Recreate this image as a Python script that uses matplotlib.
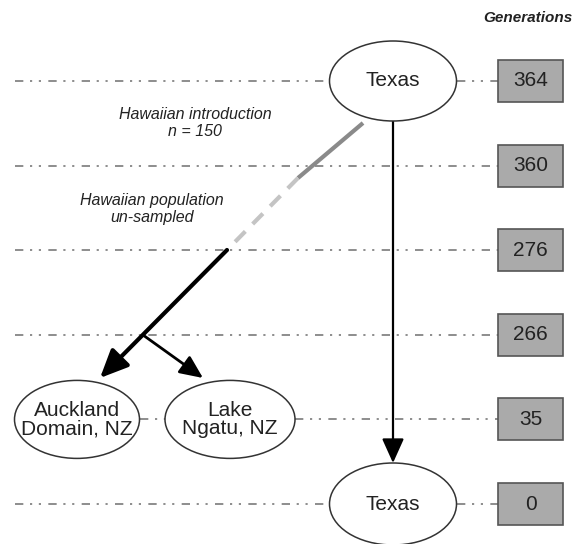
import matplotlib
matplotlib.use('Agg')
import matplotlib.pyplot as plt
from matplotlib.patches import Ellipse, Rectangle, FancyArrowPatch

plt.rcParams['font.family'] = ['Liberation Sans', 'DejaVu Sans']

# ── 데이터 ──────────────────────────────────────────────
generations = [364, 360, 276, 266, 35, 0]
node_labels = ['Texas', 'Auckland\nDomain, NZ', 'Lake\nNgatu, NZ', 'Texas']
intro_label = 'Hawaiian introduction\nn = 150'
unsampled_label = 'Hawaiian population\nun-sampled'

# ── 레이아웃 (픽셀 좌표) ─────────────────────────────────
W, H = 578, 544
row_y0, row_step = 81, 84.6
rows = [row_y0 + i * row_step for i in range(len(generations))]
box_x, box_w, box_h = 498, 65, 42
line_x0 = 15
dashdot = (0, (5, 4, 1.3, 4, 1.3, 4.4))
line_col = '#7a7a7a'
txt_col = '#222222'

fig = plt.figure(figsize=(W / 100, H / 100), dpi=100)
ax = fig.add_axes([0, 0, 1, 1])
ax.set_xlim(0, W)
ax.set_ylim(H, 0)
ax.set_axis_off()

# 노드 (타원): 중심 x, 행 번호, 너비, 높이
nodes = [
    (393, 0, 127, 80),
    (77, 4, 125, 78),
    (230, 4, 130, 78),
    (393, 5, 127, 82),
]

# ── 세대 라인 ───────────────────────────────────────────
def hline(x0, x1, y):
    ax.plot([x0, x1], [y, y], color=line_col, lw=1.2, linestyle=dashdot, zorder=1)

hline(line_x0, nodes[0][0] - nodes[0][2] / 2, rows[0])
hline(nodes[0][0] + nodes[0][2] / 2, box_x, rows[0])
for r in (1, 2, 3):
    hline(line_x0, box_x, rows[r])
hline(nodes[1][0] + nodes[1][2] / 2, nodes[2][0] - nodes[2][2] / 2, rows[4])
hline(nodes[2][0] + nodes[2][2] / 2, box_x, rows[4])
hline(line_x0, nodes[3][0] - nodes[3][2] / 2, rows[5])
hline(nodes[3][0] + nodes[3][2] / 2, box_x, rows[5])

# ── 세대 박스 ───────────────────────────────────────────
for g, y in zip(generations, rows):
    ax.add_patch(Rectangle((box_x, y - box_h / 2), box_w, box_h,
                           facecolor='#aaaaaa', edgecolor='#555555', lw=1.2, zorder=3))
    ax.text(box_x + box_w / 2, y, str(g), ha='center', va='center',
            fontsize=15, color=txt_col, zorder=4)

ax.text(528, 18, 'Generations', ha='center', va='center', fontsize=11,
        fontstyle='italic', fontweight='bold', color=txt_col)

# ── 노드 ────────────────────────────────────────────────
for (cx, r, w, h), lab in zip(nodes, node_labels):
    ax.add_patch(Ellipse((cx, rows[r]), w, h, facecolor='white',
                         edgecolor='#333333', lw=1.1, zorder=3))
    ax.text(cx, rows[r], lab, ha='center', va='center', fontsize=15,
            color=txt_col, linespacing=0.95, zorder=4)

# ── 하와이 경로 ─────────────────────────────────────────
p_start = (363, 123)
p_gray_end = (298, 178)
p_dash_end = (227, 250)
p_split = (143, 335)
p_auck = (100, 378)
p_lake = (203, 378)

ax.plot([p_start[0], p_gray_end[0]], [p_start[1], p_gray_end[1]],
        color='#8a8a8a', lw=3, solid_capstyle='butt', zorder=2)
ax.plot([p_gray_end[0], p_dash_end[0]], [p_gray_end[1], p_dash_end[1]],
        color='#c4c4c4', lw=3, linestyle=(0, (3.5, 2.5)), dash_capstyle='butt', zorder=2)

ax.add_patch(FancyArrowPatch(p_dash_end, p_auck,
                             arrowstyle='-|>,head_length=1.0,head_width=0.45',
                             mutation_scale=17, lw=3, color='black',
                             shrinkA=0, shrinkB=0, zorder=2))
ax.add_patch(FancyArrowPatch(p_split, p_lake,
                             arrowstyle='-|>,head_length=1.0,head_width=0.45',
                             mutation_scale=14, lw=2, color='black',
                             shrinkA=0, shrinkB=0, zorder=2))

# 텍사스 -> 텍사스
top = rows[0] + nodes[0][3] / 2
bot = rows[5] - nodes[3][3] / 2
ax.add_patch(FancyArrowPatch((393, top), (393, bot),
                             arrowstyle='-|>,head_length=1.0,head_width=0.45',
                             mutation_scale=15, lw=1.6, color='black',
                             shrinkA=0, shrinkB=0, zorder=2))

# ── 주석 ────────────────────────────────────────────────
ax.text(195, 123, intro_label, ha='center', va='center', fontsize=11.5,
        fontstyle='italic', color=txt_col, linespacing=1.1)
ax.text(152, 209, unsampled_label, ha='center', va='center', fontsize=11.5,
        fontstyle='italic', color=txt_col, linespacing=1.1)

plt.savefig('out.png', dpi=100, facecolor='white')
plt.close()
